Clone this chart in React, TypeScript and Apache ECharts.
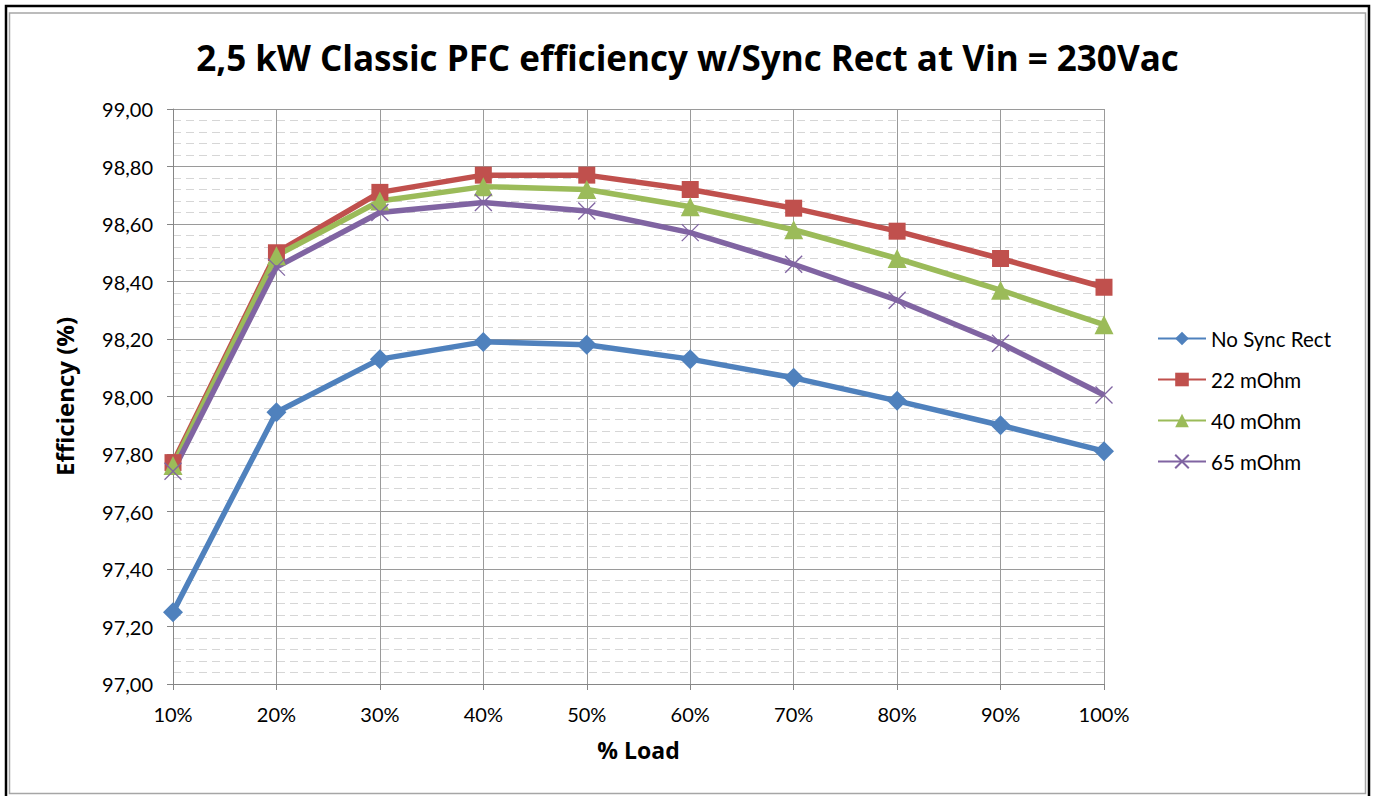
import React, { useEffect, useRef } from "react";
import * as echarts from "echarts";

const categories = ["10%", "20%", "30%", "40%", "50%", "60%", "70%", "80%", "90%", "100%"];
const noSyncRect = [97.25, 97.945, 98.13, 98.19, 98.18, 98.13, 98.065, 97.985, 97.9, 97.81];
const mOhm22 = [97.77, 98.5, 98.71, 98.77, 98.77, 98.72, 98.655, 98.575, 98.48, 98.38];
const mOhm40 = [97.76, 98.49, 98.68, 98.73, 98.72, 98.66, 98.58, 98.48, 98.37, 98.25];
const mOhm65 = [97.74, 98.45, 98.64, 98.675, 98.645, 98.57, 98.46, 98.335, 98.185, 98.005];
const seriesNames = ["No Sync Rect", "22 mOhm", "40 mOhm", "65 mOhm"];
const titleText = "2,5 kW Classic PFC efficiency w/Sync Rect at Vin = 230Vac";

const FONT = "Lato";
const BOLD_FONT = "Open Sans";
const CROSS = "path://M0,0L10,10M10,0L0,10";

export default function App() {
  const ref = useRef<HTMLDivElement>(null);
  useEffect(() => {
    if (!ref.current) return;
    const chart = echarts.init(ref.current, undefined, { renderer: "svg" });
    const colors = ["#4F81BD", "#C0504D", "#9BBB59", "#8064A2"];
    const mk = (name: string, data: number[], color: string, symbol: string, size: number, cross = false) => ({
      name,
      type: "line",
      data,
      symbol,
      symbolSize: size,
      showAllSymbol: true,
      lineStyle: { color, width: 5.5 },
      itemStyle: cross
        ? { color: "rgba(0,0,0,0)", borderColor: color, borderWidth: 1.3 }
        : { color },
      z: 3,
    });
    chart.setOption({
      animation: false,
      title: {
        text: titleText,
        left: "center",
        top: 35,
        textStyle: { fontFamily: BOLD_FONT, fontSize: 35, fontWeight: "bold", color: "#000" },
      },
      legend: {
        orient: "vertical",
        left: 1152,
        top: 323,
        itemWidth: 48,
        itemHeight: 17,
        itemGap: 20,
        data: seriesNames,
        textStyle: { fontFamily: FONT, fontSize: 20.5, color: "#000" },
      },
      grid: { left: 173, right: 271, top: 109, bottom: 112 },
      xAxis: {
        type: "category",
        data: categories,
        boundaryGap: false,
        name: "% Load",
        nameLocation: "middle",
        nameGap: 54,
        nameTextStyle: { fontFamily: BOLD_FONT, fontSize: 23, fontWeight: "bold", color: "#000" },
        axisLine: { lineStyle: { color: "#868686", width: 1 } },
        axisTick: { show: true, length: 6, lineStyle: { color: "#868686" } },
        axisLabel: { fontFamily: FONT, fontSize: 20, color: "#000", margin: 20 },
        splitLine: { show: true, lineStyle: { color: "#9a9a9a", width: 1 } },
      },
      yAxis: {
        type: "value",
        min: 97,
        max: 99,
        interval: 0.2,
        name: "Efficiency (%)",
        nameLocation: "middle",
        nameGap: 97,
        nameTextStyle: { fontFamily: BOLD_FONT, fontSize: 24, fontWeight: "bold", color: "#000" },
        axisLine: { show: true, lineStyle: { color: "#868686", width: 1 } },
        axisTick: { show: true, length: 6, lineStyle: { color: "#868686" } },
        axisLabel: {
          fontFamily: FONT,
          fontSize: 20,
          color: "#000",
          margin: 20,
          formatter: (v: number) => v.toFixed(2).replace(".", ","),
        },
        splitLine: { show: true, lineStyle: { color: "#9a9a9a", width: 1 } },
        minorTick: { show: false, splitNumber: 5 },
        minorSplitLine: { show: true, lineStyle: { color: "#d6d6d6", width: 1.2, type: [8, 5] } },
      },
      series: [
        mk(seriesNames[0], noSyncRect, colors[0], "diamond", 20),
        mk(seriesNames[1], mOhm22, colors[1], "rect", 17),
        mk(seriesNames[2], mOhm40, colors[2], "triangle", 19),
        mk(seriesNames[3], mOhm65, colors[3], CROSS, 17, true),
      ],
      graphic: [
        {
          type: "rect",
          shape: { x: 6, y: 6, width: 1363, height: 800 },
          style: { fill: "none", stroke: "#000", lineWidth: 2.5 },
          silent: true,
        },
        {
          type: "rect",
          shape: { x: 9.5, y: 13, width: 1356, height: 780.5 },
          style: { fill: "none", stroke: "#a6a6a6", lineWidth: 1.5 },
          silent: true,
        },
      ],
    });
    return () => chart.dispose();
  }, []);
  return (
    <div style={{ position: "absolute", left: 0, top: 0, width: 1375, height: 796, background: "#fff" }}>
      <div ref={ref} style={{ width: 1375, height: 796 }} />
    </div>
  );
}
